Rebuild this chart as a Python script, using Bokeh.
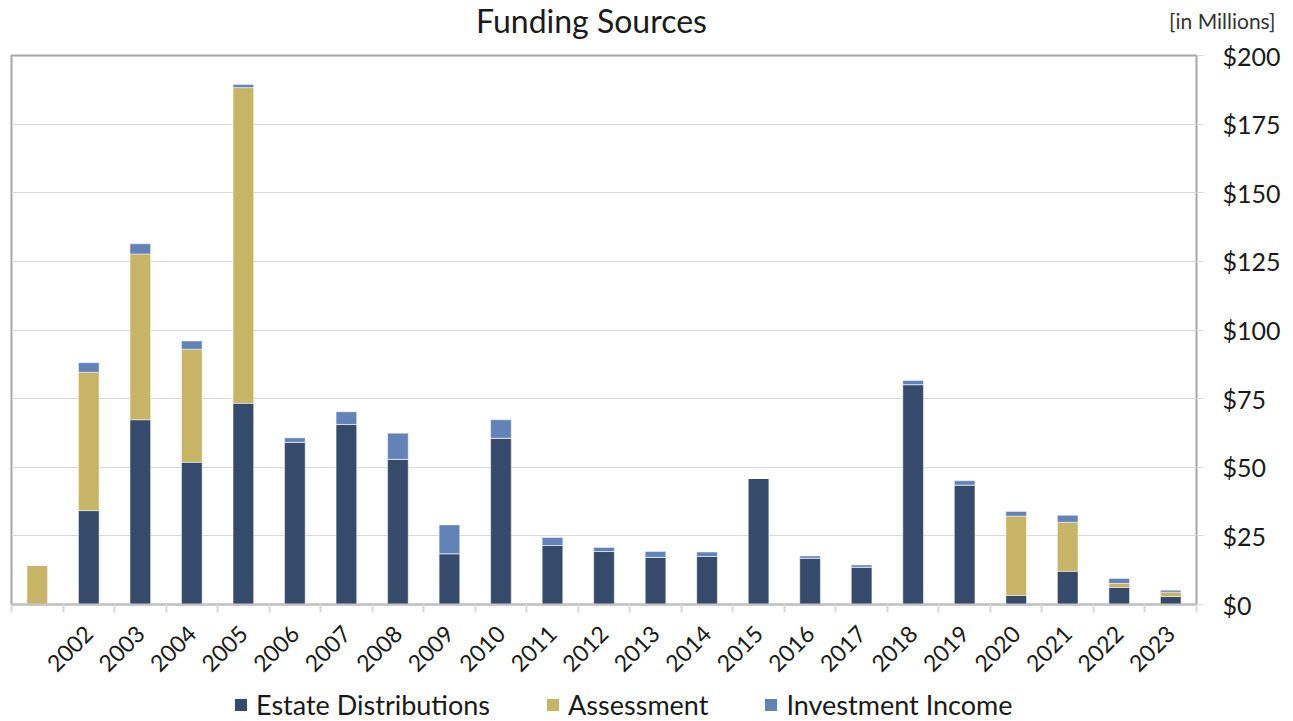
from bokeh.plotting import figure
from bokeh.models import (ColumnDataSource, Range1d, FixedTicker, Legend, LegendItem,
                          Label, NumeralTickFormatter)
from bokeh.embed import file_html
from bokeh.resources import INLINE

# ---- data (in $ millions) ----
years = ["2001", "2002", "2003", "2004", "2005", "2006", "2007", "2008", "2009", "2010",
         "2011", "2012", "2013", "2014", "2015", "2016", "2017", "2018", "2019", "2020",
         "2021", "2022", "2023"]
tick_labels = ["", "2002", "2003", "2004", "2005", "2006", "2007", "2008", "2009", "2010",
               "2011", "2012", "2013", "2014", "2015", "2016", "2017", "2018", "2019", "2020",
               "2021", "2022", "2023"]
estate = [0, 34.2, 67.3, 51.8, 73.3, 59.1, 65.6, 52.9, 18.5, 60.6,
          21.5, 19.3, 17.2, 17.5, 45.9, 16.9, 13.6, 80.1, 43.5, 3.3,
          12.1, 6.2, 2.9]
assessment = [14.2, 50.4, 60.4, 41.2, 115.0, 0, 0, 0, 0, 0,
              0, 0, 0, 0, 0, 0, 0, 0, 0, 28.9,
              17.9, 1.5, 1.6]
investment = [0, 3.5, 3.7, 3.0, 1.1, 1.6, 4.6, 9.5, 10.5, 6.7,
              2.9, 1.5, 2.1, 1.6, 0, 0.8, 0.8, 1.5, 1.6, 1.7,
              2.5, 1.8, 0.7]
series = ["Estate Distributions", "Assessment", "Investment Income"]
y_ticks = [0, 25, 50, 75, 100, 125, 150, 175, 200]
title_text = "Funding Sources"
unit_text = "[in Millions]"

colors = ["#364A6B", "#C8B466", "#6282B8"]
FONT = "Lato"
W = 1293


def blank_panel(height, y_range):
    f = figure(width=W, height=height, output_backend="svg", toolbar_location=None,
               x_range=Range1d(-0.5, len(years) - 0.5), y_range=y_range,
               x_axis_location=None, y_axis_location=None, title_location=None,
               min_border=0, min_border_left=0, min_border_right=0,
               min_border_top=0, min_border_bottom=0)
    f.grid.visible = False
    f.outline_line_color = None
    f.background_fill_color = "white"
    f.border_fill_color = "white"
    return f


# ---- header with title texts ----
header = blank_panel(40, Range1d(0, 1))
header.add_layout(Label(x=591, y=20, x_units="screen", y_units="screen", text=title_text,
                        text_font=FONT, text_font_size="32px", text_color="#1a1a1a",
                        text_align="center", text_baseline="middle"))
header.add_layout(Label(x=1275, y=20, x_units="screen", y_units="screen", text=unit_text,
                        text_font=FONT, text_font_size="21px", text_color="#333333",
                        text_align="right", text_baseline="middle"))

# ---- main chart ----
xs = list(range(len(years)))
source = ColumnDataSource(dict(x=xs, estate=estate, assessment=assessment,
                               investment=investment))

p = figure(width=W, height=648, output_backend="svg", toolbar_location=None,
           x_range=Range1d(-0.5, len(years) - 0.5), y_range=Range1d(0, 200),
           y_axis_location="right", title_location=None,
           min_border_left=11, min_border_right=97, min_border_top=15,
           min_border_bottom=84)

renderers = p.vbar_stack(["estate", "assessment", "investment"], x="x", width=0.4,
                         source=source, color=colors, line_color="#ffffff",
                         line_width=0.8, line_alpha=0.6)

p.outline_line_color = "#a6a6a6"
p.outline_line_width = 2
p.background_fill_color = "white"
p.border_fill_color = "white"

p.xgrid.grid_line_color = None
p.ygrid.grid_line_color = "#d9d9d9"
p.ygrid.grid_line_width = 1
p.ygrid.ticker = FixedTicker(ticks=y_ticks)

yax = p.yaxis[0]
yax.ticker = FixedTicker(ticks=y_ticks)
yax.formatter = NumeralTickFormatter(format="$0")
yax.axis_line_color = None
yax.major_tick_out = 7
yax.major_tick_in = 0
yax.major_tick_line_color = "#d9d9d9"
yax.minor_tick_line_color = None
yax.major_label_text_font = FONT
yax.major_label_text_font_size = "25px"
yax.major_label_text_color = "#1a1a1a"
yax.major_label_standoff = 19

xax = p.xaxis[0]
xax.ticker = FixedTicker(ticks=xs, minor_ticks=[i - 0.5 for i in range(len(years) + 1)])
xax.major_label_overrides = {i: lab for i, lab in enumerate(tick_labels)}
xax.major_label_orientation = 0.785398
xax.major_tick_out = 0
xax.major_tick_in = 0
xax.minor_tick_out = 8
xax.minor_tick_in = 0
xax.minor_tick_line_color = "#d9d9d9"
xax.minor_tick_line_width = 2
xax.axis_line_color = "#c4c4c4"
xax.axis_line_width = 2
xax.major_label_text_font = FONT
xax.major_label_text_font_size = "23px"
xax.major_label_text_color = "#1a1a1a"
xax.major_label_standoff = 17

# ---- footer with legend (swatch renderers share the data but lie far outside the view) ----
footer = blank_panel(33, Range1d(1000, 1050))
swatches = footer.vbar_stack(["estate", "assessment", "investment"], x="x", width=0.4,
                             source=source, color=colors, line_alpha=0)
legend = Legend(items=[LegendItem(label=s, renderers=[r]) for s, r in zip(series, swatches)],
                location=(233, 0), orientation="horizontal",
                label_text_font=FONT, label_text_font_size="27px", label_text_color="#1a1a1a",
                glyph_width=15, glyph_height=15, label_standoff=8, spacing=55,
                padding=0, margin=0, border_line_color=None, background_fill_alpha=0)
footer.add_layout(legend, "center")

open("out.html", "w").write(file_html([header, p, footer], INLINE))
